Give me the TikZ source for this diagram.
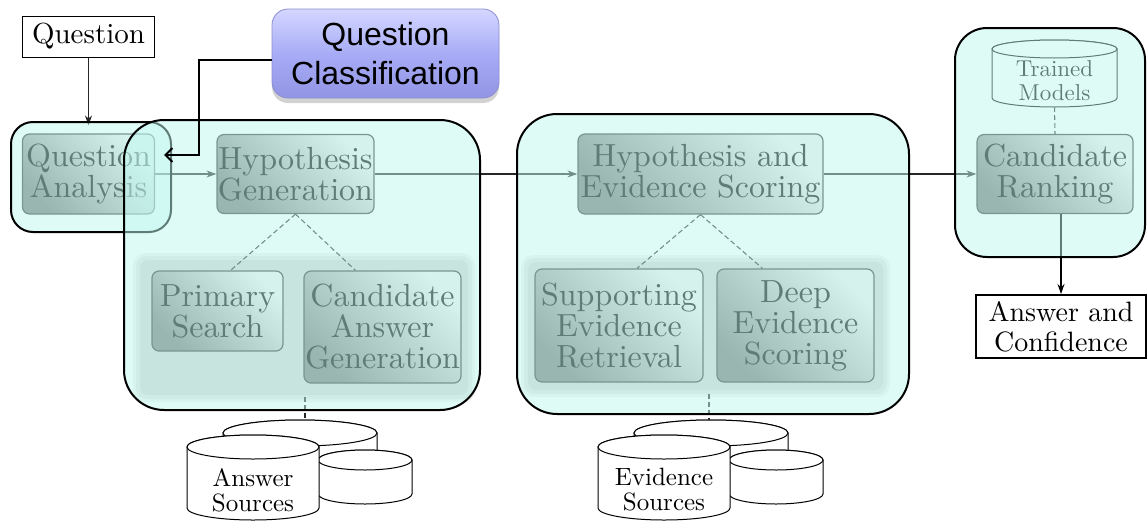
\documentclass[tikz,border=0pt]{standalone}
\usepackage{fontspec}
\setmainfont{lmroman10}[Extension=.otf, UprightFont=*-regular, BoldFont=*-bold, ItalicFont=*-italic, BoldItalicFont=*-bolditalic]
\newfontfamily\qcfont{Liberation Sans}
\usetikzlibrary{arrows.meta,shadows,calc}
\definecolor{ovl}{RGB}{193,249,239}
\definecolor{qctop}{RGB}{212,215,255}
\definecolor{qcmid}{RGB}{168,172,246}
\definecolor{qcbot}{RGB}{146,148,228}
\definecolor{qcbord}{RGB}{140,142,210}
\newcommand\dbcyl[5]{%
  \filldraw[cylline] (#1-#4,#2) -- (#1-#4,#3) arc[start angle=180,end angle=360,x radius=#4pt,y radius=#5pt] -- (#1+#4,#2) arc[start angle=0,end angle=180,x radius=#4pt,y radius=#5pt] -- cycle;
  \draw[cylline] (#1,#2) ellipse[x radius=#4pt, y radius=#5pt];}
\begin{document}
\begin{tikzpicture}[x=1pt,y=-1pt,
 proc/.style={draw=black!80, line width=1.2pt, rounded corners=7pt, top color=black!8, bottom color=black!55, shading angle=-45, align=center, inner sep=0pt, font=\fontsize{32}{31}\selectfont},
 plainbox/.style={draw=black, fill=white, align=center, inner sep=0pt},
 flow/.style={draw=black!85, line width=1.1pt, -{Stealth[length=10pt,width=7pt]}},
 dashlink/.style={draw=black!85, line width=1.1pt, dash pattern=on 5pt off 3pt},
 region/.style={fill=ovl, fill opacity=0.5, draw=black, line width=2pt},
 cylline/.style={draw=black, line width=1pt, fill=white},
 cyltext/.style={align=center, inner sep=0pt, font=\fontsize{25}{25}\selectfont},
 groupbg/.style={fill=black!19},
 qcbox/.style={rounded corners=16pt, draw=qcbord, line width=0.8pt, top color=qctop, bottom color=qcbot, middle color=qcmid, drop shadow={shadow xshift=0pt, shadow yshift=-5pt, opacity=0.35}, align=center, inner sep=0pt, font=\qcfont\fontsize{32}{39}\selectfont}
]
\useasboundingbox (0,0) rectangle (1147,522);
\fill[white] (0,0) rectangle (1147,522);

% gray groups (soft edges)
\fill[groupbg, opacity=.3, rounded corners=12pt] (133,253) rectangle (475,402);
\fill[groupbg, opacity=.5, rounded corners=10pt] (136,256) rectangle (472,399);
\fill[groupbg, rounded corners=8pt] (140,260) rectangle (468,395);
\fill[groupbg, opacity=.3, rounded corners=12pt] (521,255) rectangle (890,397);
\fill[groupbg, opacity=.5, rounded corners=10pt] (524,258) rectangle (887,394);
\fill[groupbg, rounded corners=8pt] (528,262) rectangle (883,390);

% boxes
\node[plainbox, line width=1pt, minimum width=132pt, minimum height=41pt, font=\fontsize{29}{30}\selectfont] (Q) at (88.5,36.5) {Question};
\node[proc, minimum width=132pt, minimum height=80pt] (QA) at (88.5,174) {Question\\Analysis};
\node[proc, minimum width=157pt, minimum height=79pt] (HG) at (295.5,174) {Hypothesis\\Generation};
\node[proc, minimum width=131pt, minimum height=80pt] (PS) at (217.5,311) {Primary\\Search};
\node[proc, minimum width=157pt, minimum height=112pt] (CAG) at (382.5,327) {Candidate\\Answer\\Generation};
\node[proc, minimum width=245pt, minimum height=80pt] (HES) at (700.5,174) {Hypothesis and\\Evidence Scoring};
\node[proc, minimum width=168pt, minimum height=113pt] (SER) at (619,325.5) {Supporting\\Evidence\\Retrieval};
\node[proc, minimum width=157pt, minimum height=113pt] (DES) at (795.5,325.5) {Deep\\Evidence\\Scoring};
\node[proc, minimum width=156pt, minimum height=79pt] (CR) at (1055,174) {Candidate\\Ranking};
\node[plainbox, line width=2pt, minimum width=170pt, minimum height=63pt, font=\fontsize{28}{30}\selectfont] (AC) at (1061,326.5) {Answer and\\Confidence};

% cylinders
\dbcyl{300}{433}{470}{77}{13}
\dbcyl{365}{460}{494}{47}{10}
\dbcyl{253}{447}{508}{66}{12}
\node[cyltext] (AS) at (253,490) {Answer\\Sources};
\dbcyl{711}{433}{470}{77}{13}
\dbcyl{776}{460}{494}{47}{10}
\dbcyl{664}{447}{508}{66}{12}
\node[cyltext] (ES) at (664,490) {Evidence\\Sources};
\dbcyl{1054.5}{49}{98}{62.5}{9}
\node[cyltext, font=\fontsize{23}{24}\selectfont] (TM) at (1054.5,81) {Trained\\Models};

% connectors
\coordinate (G1s) at (305,397);
\coordinate (AStop) at (305,420);
\coordinate (G2s) at (709,394);
\coordinate (EStop) at (709,420);
\coordinate (TMbot) at (1054.5,107);
\draw[flow, shorten >=8pt] (Q.south) -- (QA.north);
\draw[flow] (QA.east) -- (HG.west);
\draw[flow] (HG.east) -- (HES.west);
\draw[flow] (HES.east) -- (CR.west);
\draw[flow, draw=black] (CR.south -| AC.north) -- (AC.north);
\draw[dashlink] (HG.south) -- ([xshift=13pt]PS.north);
\draw[dashlink] (HG.south) -- ([xshift=-27pt]CAG.north);
\draw[dashlink] (HES.south) -- ([xshift=18pt]SER.north);
\draw[dashlink] (HES.south) -- ([xshift=-33pt]DES.north);
\draw[dashlink] (G1s) -- (AStop);
\draw[dashlink] (G2s) -- (EStop);
\draw[dashlink] (TMbot) -- (CR.north);

% highlight regions
\draw[region, rounded corners=22pt] (11,122) rectangle (171,232);
\draw[region, rounded corners=40pt] (124,120) rectangle (480,410);
\draw[region, rounded corners=40pt] (517,114) rectangle (909,414);
\draw[region, rounded corners=32pt] (955,28) rectangle (1145,257);

% question classification
\node[qcbox, minimum width=227pt, minimum height=89pt] (QC) at (385.5,53.5) {Question\\Classification};
\coordinate (qcb) at (199,155);
\coordinate (qain) at (164,155);
\draw[line width=2pt, -{Straight Barb[length=7pt,width=14pt]}] ([yshift=-6pt]QC.west) -| (qcb) -- (qain);
\end{tikzpicture}
\end{document}
